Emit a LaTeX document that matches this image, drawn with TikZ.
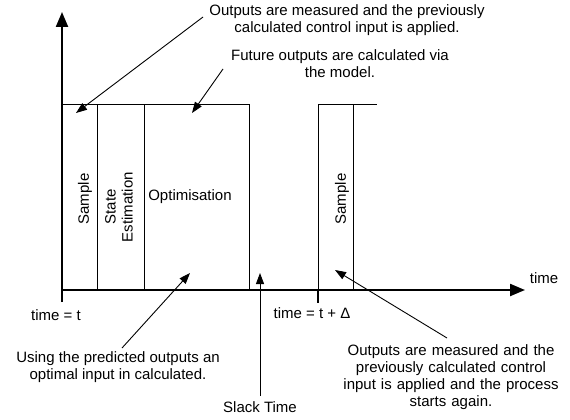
\documentclass[tikz,border=0pt]{standalone}
\usepackage{fontspec}
\setmainfont{Liberation Sans}
\usetikzlibrary{arrows.meta}
\begin{document}
\begin{tikzpicture}[x=1pt,y=-1pt,
  txt/.style={inner sep=0pt,align=center,font=\fontsize{15}{17}\selectfont},
  axisline/.style={line width=2.2pt,-{Triangle[length=15pt,width=12pt]}},
  boxline/.style={line width=1pt},
  callout/.style={line width=0.9pt,-{Triangle[length=11pt,width=8pt]}}]
\useasboundingbox (0,0) rectangle (570,420);
% axes
\coordinate (ybot) at (62,302);
\coordinate (ytip) at (62,12);
\coordinate (xorg) at (62,290);
\coordinate (xtip) at (525,290);
\coordinate (tick) at (318,290);
\coordinate (tickb) at (318,303);
\draw[axisline] (ybot) -- (ytip);
\draw[axisline] (xorg) -- (xtip);
\draw[line width=2.2pt] (tick) -- (tickb);
% first block
\coordinate (a0) at (62,104);
\coordinate (a1) at (97,104);
\coordinate (a2) at (144,104);
\coordinate (a3) at (249,104);
\draw[boxline] (a0) -- (a3) -- (a3 |- xorg);
\draw[boxline] (a1) -- (a1 |- xorg);
\draw[boxline] (a2) -- (a2 |- xorg);
% second block
\coordinate (b0) at (318,104);
\coordinate (b1) at (353,104);
\coordinate (b2) at (377,104);
\draw[boxline] (b0 |- xorg) -- (b0) -- (b2);
\draw[boxline] (b1) -- (b1 |- xorg);
% block labels
\node[txt,rotate=90] (samp1) at (85,199) {Sample};
\node[txt,rotate=90] (stest) at (119,207) {State\\Estimation};
\node[txt] (optim) at (190,197) {Optimisation};
\node[txt,rotate=90] (samp2) at (342,199) {Sample};
% axis labels
\node[txt] (time) at (544,278) {time};
\node[txt] (tt) at (56,315) {time = t};
\node[txt] (ttd) at (312,313) {time = t + Δ};
% annotations
\node[txt] (n1) at (347,20) {Outputs are measured and the previously\\calculated control input is applied.};
\node[txt] (n2) at (340,64) {Future outputs are calculated via\\the model.};
\node[txt] (n3) at (118,367) {Using the predicted outputs an\\optimal input in calculated.};
\node[txt] (n4) at (260,407) {Slack Time};
\node[txt,text width=230pt] (n5) at (451,377) {Outputs are measured and the\\previously calculated control\\input is applied and the process\\starts again.};
% callout arrows
\coordinate (c1s) at (203,17);
\coordinate (c1e) at (76,113);
\coordinate (c2s) at (223,69);
\coordinate (c2e) at (192,113);
\coordinate (c3s) at (122,348);
\coordinate (c3e) at (190,273);
\coordinate (c4s) at (260,396);
\coordinate (c4e) at (260,273);
\coordinate (c5s) at (447,338);
\coordinate (c5e) at (335,270);
\draw[callout] (c1s) -- (c1e);
\draw[callout] (c2s) -- (c2e);
\draw[callout] (c3s) -- (c3e);
\draw[callout] (c4s) -- (c4e);
\draw[callout] (c5s) -- (c5e);
\end{tikzpicture}
\end{document}
